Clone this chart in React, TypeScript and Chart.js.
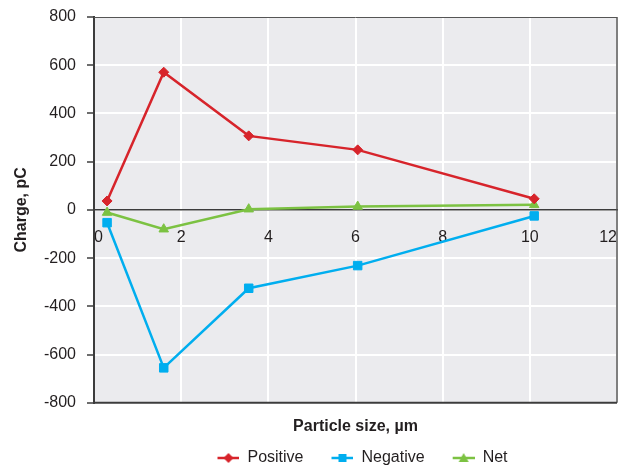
import React, { useEffect, useRef } from 'react';
import { Chart, registerables } from 'chart.js';

Chart.register(...registerables);

// ---- data ----
const particleSizes = [0.3, 1.6, 3.55, 6.05, 10.1];
const positiveCharge = [37, 571, 307, 249, 46];
const negativeCharge = [-53, -655, -325, -231, -25];
const netCharge = [-11, -80, 3, 14, 21];
const seriesNames = ['Positive', 'Negative', 'Net'];
const xTickValues = [0, 2, 4, 6, 8, 10, 12];
const yTickValues = [-800, -600, -400, -200, 0, 200, 400, 600, 800];
const xTitle = 'Particle size, µm';
const yTitle = 'Charge, pC';

const COLORS = ['#D7242B', '#00AEEF', '#7CC242'];
const STYLES = ['rectRot', 'rect', 'triangle'];
const RADII = [5, 6, 5.5];
const TEXT = '#231F20';
const FRAME = '#3C3C3C';
const FONT = '"Liberation Sans", Arial, Helvetica, sans-serif';

function makeLegendIcon(color: string, style: string): HTMLCanvasElement {
  const c = document.createElement('canvas');
  c.width = 36;
  c.height = 12;
  const ctx = c.getContext('2d')!;
  ctx.strokeStyle = color;
  ctx.lineWidth = 2.5;
  ctx.beginPath();
  ctx.moveTo(14, 6);
  ctx.lineTo(36, 6);
  ctx.stroke();
  ctx.fillStyle = color;
  const cx = 25;
  const cy = 6;
  ctx.beginPath();
  if (style === 'rectRot') {
    ctx.moveTo(cx, cy - 5);
    ctx.lineTo(cx + 5, cy);
    ctx.lineTo(cx, cy + 5);
    ctx.lineTo(cx - 5, cy);
    ctx.closePath();
  } else if (style === 'rect') {
    ctx.rect(cx - 4, cy - 4, 8, 8);
  } else {
    ctx.moveTo(cx, cy - 5);
    ctx.lineTo(cx + 5, cy + 4);
    ctx.lineTo(cx - 5, cy + 4);
    ctx.closePath();
  }
  ctx.fill();
  return c;
}

const plotBackground = {
  id: 'plotBackground',
  beforeDraw(chart: any) {
    const { ctx, chartArea: a } = chart;
    ctx.save();
    ctx.fillStyle = '#EBEBEE';
    ctx.fillRect(a.left, a.top, a.right - a.left, a.bottom - a.top);
    ctx.restore();
  },
  beforeDatasetsDraw(chart: any) {
    const { ctx, chartArea: a } = chart;
    ctx.save();
    ctx.strokeStyle = '#555555';
    ctx.lineWidth = 1;
    ctx.beginPath();
    ctx.moveTo(a.left, a.top + 0.5);
    ctx.lineTo(a.right, a.top + 0.5);
    ctx.stroke();
    ctx.lineWidth = 1.5;
    ctx.beginPath();
    ctx.moveTo(a.right, a.top);
    ctx.lineTo(a.right, a.bottom);
    ctx.stroke();
    ctx.strokeStyle = FRAME;
    ctx.lineWidth = 2;
    ctx.beginPath();
    ctx.moveTo(a.left, a.bottom);
    ctx.lineTo(a.right, a.bottom);
    ctx.stroke();
    ctx.restore();
  },
};

export default function App() {
  const canvasRef = useRef<HTMLCanvasElement | null>(null);

  useEffect(() => {
    document.body.style.margin = '0';
    const canvas = canvasRef.current;
    if (!canvas) return;

    const series = [positiveCharge, negativeCharge, netCharge];
    const icons = COLORS.map((c, i) => makeLegendIcon(c, STYLES[i]));

    const chart = new Chart(canvas, {
      type: 'line',
      data: {
        datasets: series.map((vals, i) => ({
          label: seriesNames[i],
          data: vals.map((y, j) => ({ x: particleSizes[j], y })),
          borderColor: COLORS[i],
          backgroundColor: COLORS[i],
          borderWidth: 2.5,
          pointStyle: STYLES[i] as any,
          pointRadius: RADII[i],
          pointBorderWidth: 1,
          pointBackgroundColor: COLORS[i],
          pointBorderColor: COLORS[i],
          tension: 0,
          clip: false as any,
        })),
      },
      plugins: [plotBackground],
      options: {
        animation: false,
        responsive: false,
        layout: { padding: { left: 0, right: 6, top: 17, bottom: -8 } },
        font: { family: FONT, size: 16 },
        scales: {
          x: {
            type: 'linear',
            position: { y: 0 } as any,
            min: 0,
            max: 12,
            afterBuildTicks: (scale: any) => {
              scale.ticks = xTickValues.map((v) => ({ value: v }));
            },
            ticks: {
              align: 'inner' as any,
              padding: 3,
              color: TEXT,
              font: { family: FONT, size: 16 },
            },
            grid: {
              color: '#FFFFFF',
              lineWidth: 2,
              drawTicks: true,
              tickLength: 15,
              tickColor: 'rgba(0,0,0,0)',
            },
            border: { display: true, color: FRAME, width: 1.5 },
          },
          xTitleAxis: {
            type: 'linear',
            position: 'bottom',
            min: 0,
            max: 12,
            ticks: { display: false },
            grid: { display: false, drawTicks: false },
            border: { display: false },
            title: {
              display: true,
              text: xTitle,
              color: TEXT,
              font: { family: FONT, size: 16, weight: 'bold' },
              padding: { top: 14, bottom: 0 },
            },
          },
          y: {
            type: 'linear',
            position: 'left',
            min: -800,
            max: 800,
            afterBuildTicks: (scale: any) => {
              scale.ticks = yTickValues.map((v) => ({ value: v }));
            },
            afterFit: (scale: any) => {
              scale.width = 94;
            },
            ticks: {
              padding: 11,
              color: TEXT,
              font: { family: FONT, size: 16, lineHeight: 0.6 },
            },
            grid: {
              color: '#FFFFFF',
              lineWidth: 2,
              drawTicks: true,
              tickLength: 7,
              tickColor: FRAME,
              tickWidth: 1.5,
            },
            border: { display: true, color: FRAME, width: 2 },
            title: {
              display: true,
              text: yTitle,
              color: TEXT,
              font: { family: FONT, size: 16, weight: 'bold' },
              padding: { top: 12, bottom: 0 },
            },
          },
        },
        plugins: {
          legend: {
            display: true,
            position: 'bottom',
            fullSize: false,
            labels: {
              usePointStyle: true,
              pointStyleWidth: 36,
              boxHeight: 12,
              padding: 14,
              color: TEXT,
              font: { family: FONT, size: 16 },
              generateLabels: (ch: any) =>
                ch.data.datasets.map((ds: any, i: number) => ({
                  text: ds.label,
                  pointStyle: icons[i],
                  fillStyle: COLORS[i],
                  strokeStyle: COLORS[i],
                  lineWidth: 0,
                  hidden: false,
                  datasetIndex: i,
                  fontColor: TEXT,
                })),
            },
          },
          tooltip: { enabled: false },
        },
      },
    });

    return () => {
      chart.destroy();
    };
  }, []);

  return (
    <div style={{ width: 624, height: 468 }}>
      <canvas ref={canvasRef} width={624} height={468} />
    </div>
  );
}
